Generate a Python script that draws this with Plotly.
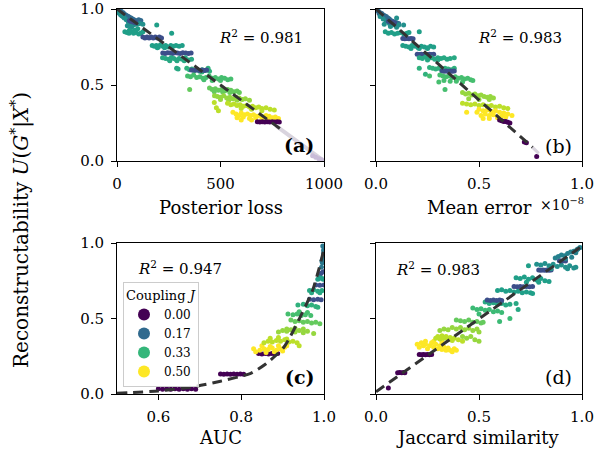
import plotly.graph_objects as go

# ---------------- data ----------------
# each group: (coupling J, x values, U values)
A_GROUPS = [
    (0.17, [4, 10, 15, 20, 26, 30, 36, 42, 48, 55, 60, 68, 75, 82, 90, 98, 105, 115, 12, 24, 40, 52, 66, 85],
     [0.995, 0.99, 0.98, 0.985, 0.97, 0.975, 0.965, 0.96, 0.955, 0.95, 0.945, 0.94, 0.935, 0.93, 0.925, 0.92, 0.93, 0.925, 0.97, 0.955, 0.945, 0.935, 0.92, 0.915]),
    (0.25, [8, 18, 28, 35, 45, 55, 62, 72, 80, 95, 110, 125, 50, 70],
     [0.975, 0.96, 0.95, 0.94, 0.93, 0.915, 0.905, 0.9, 0.895, 0.9, 0.905, 0.9, 0.89, 0.88]),
    (0.12, [60, 66, 72, 78, 84, 90], [0.925, 0.92, 0.92, 0.915, 0.915, 0.91]),
    (0.28, [38, 48, 58, 70, 80, 92, 105, 115, 125, 60, 85, 100, 192, 264],
     [0.85, 0.845, 0.84, 0.85, 0.84, 0.845, 0.835, 0.84, 0.85, 0.86, 0.86, 0.87, 0.895, 0.84]),
    (0.12, [125, 135, 145, 155, 165, 175, 185, 195, 205, 215],
     [0.815, 0.81, 0.815, 0.81, 0.815, 0.81, 0.815, 0.81, 0.815, 0.81]),
    (0.28, [170, 180, 190, 200, 210, 222, 235, 248, 260, 272, 285, 300, 315, 195, 230, 265],
     [0.76, 0.755, 0.76, 0.75, 0.765, 0.755, 0.76, 0.75, 0.76, 0.755, 0.76, 0.755, 0.76, 0.745, 0.745, 0.75]),
    (0.12, [221, 232, 244, 256, 268, 280, 292, 305, 318, 332, 345, 358],
     [0.71, 0.708, 0.712, 0.71, 0.708, 0.712, 0.71, 0.708, 0.712, 0.71, 0.708, 0.71]),
    (0.3, [220, 235, 250, 262, 275, 288, 300, 315, 330, 345, 360, 255, 290, 325, 288, 295],
     [0.68, 0.675, 0.67, 0.68, 0.675, 0.665, 0.675, 0.67, 0.68, 0.665, 0.67, 0.66, 0.66, 0.66, 0.61, 0.605]),
    (0.32, [337, 350, 362, 375, 388, 400, 412, 425, 437, 447, 410, 440],
     [0.61, 0.6, 0.605, 0.595, 0.6, 0.59, 0.6, 0.595, 0.6, 0.59, 0.585, 0.61]),
    (0.12, [360, 372, 385, 398, 410, 422, 433], [0.598, 0.595, 0.598, 0.595, 0.598, 0.595, 0.598]),
    (0.35, [341, 355, 370, 385, 400, 415, 430, 445, 460, 475, 490, 505, 520, 535, 550, 420, 460, 500],
     [0.56, 0.555, 0.565, 0.55, 0.555, 0.545, 0.55, 0.56, 0.545, 0.55, 0.54, 0.55, 0.545, 0.535, 0.54, 0.535, 0.53, 0.53]),
    (0.38, [351, 447, 460, 475, 490, 505, 520, 535, 550, 565, 580, 591, 470, 510, 545],
     [0.47, 0.48, 0.47, 0.475, 0.465, 0.47, 0.46, 0.47, 0.465, 0.455, 0.46, 0.45, 0.455, 0.455, 0.45]),
    (0.42, [471, 485, 500, 515, 530, 545, 560, 575, 590, 605, 620, 640, 500, 540, 580],
     [0.43, 0.425, 0.42, 0.43, 0.415, 0.42, 0.41, 0.42, 0.415, 0.405, 0.41, 0.4, 0.405, 0.4, 0.4]),
    (0.45, [470, 480, 490, 534, 550, 565, 580, 595, 610, 625, 640, 655, 670, 685, 700, 720, 740, 760, 600, 650, 700],
     [0.385, 0.35, 0.33, 0.38, 0.37, 0.375, 0.365, 0.37, 0.36, 0.365, 0.355, 0.36, 0.35, 0.355, 0.345, 0.35, 0.34, 0.335, 0.345, 0.34, 0.33]),
    (0.5, [560, 575, 590, 600, 615, 630, 645, 660, 675, 690, 705, 720, 735, 750, 765, 780, 580, 610, 640, 670, 700, 730, 760, 600, 650],
     [0.32, 0.31, 0.3, 0.315, 0.305, 0.31, 0.3, 0.305, 0.295, 0.3, 0.29, 0.3, 0.295, 0.285, 0.29, 0.28, 0.285, 0.29, 0.28, 0.285, 0.275, 0.28, 0.275, 0.27, 0.27]),
    (0.0, [678, 690, 702, 714, 726, 738, 750, 762, 774, 784],
     [0.258, 0.256, 0.258, 0.256, 0.258, 0.256, 0.258, 0.256, 0.258, 0.256]),
]
A_END_X = [945, 960, 975, 988]
A_END_Y = [0.035, 0.025, 0.015, 0.008]

B_GROUPS = [
    (0.17, [0.005, 0.012, 0.02, 0.028, 0.035, 0.042, 0.05, 0.058, 0.065, 0.072, 0.08, 0.09, 0.1, 0.11, 0.015, 0.03, 0.045, 0.06],
     [0.99, 0.985, 0.975, 0.97, 0.96, 0.955, 0.95, 0.94, 0.935, 0.925, 0.92, 0.915, 0.91, 0.905, 0.97, 0.955, 0.94, 0.925]),
    (0.25, [0.02, 0.035, 0.05, 0.065, 0.08, 0.095, 0.11, 0.04, 0.07, 0.1, 0.134, 0.1],
     [0.95, 0.935, 0.92, 0.905, 0.895, 0.9, 0.895, 0.9, 0.885, 0.88, 0.895, 0.94]),
    (0.12, [0.06, 0.07, 0.08, 0.09], [0.92, 0.915, 0.915, 0.91]),
    (0.28, [0.045, 0.06, 0.075, 0.09, 0.105, 0.12, 0.135, 0.15, 0.16, 0.21],
     [0.85, 0.84, 0.845, 0.835, 0.84, 0.845, 0.835, 0.84, 0.845, 0.85]),
    (0.12, [0.13, 0.14, 0.15, 0.16, 0.17, 0.18], [0.806, 0.804, 0.806, 0.804, 0.806, 0.804]),
    (0.28, [0.13, 0.145, 0.16, 0.175, 0.19, 0.205, 0.22, 0.235, 0.25, 0.265, 0.28, 0.17, 0.21, 0.25],
     [0.76, 0.755, 0.75, 0.76, 0.755, 0.745, 0.755, 0.75, 0.745, 0.755, 0.75, 0.74, 0.74, 0.74]),
    (0.12, [0.2, 0.21, 0.22, 0.23, 0.24, 0.25, 0.26, 0.27, 0.28],
     [0.702, 0.7, 0.702, 0.7, 0.702, 0.7, 0.702, 0.7, 0.702]),
    (0.3, [0.21, 0.225, 0.24, 0.255, 0.27, 0.285, 0.3, 0.315, 0.33, 0.345, 0.36, 0.38, 0.25, 0.3],
     [0.68, 0.675, 0.685, 0.675, 0.68, 0.67, 0.68, 0.675, 0.68, 0.67, 0.675, 0.68, 0.665, 0.665]),
    (0.32, [0.21, 0.26, 0.275, 0.29, 0.305, 0.32, 0.335, 0.35, 0.365, 0.38, 0.24],
     [0.61, 0.615, 0.61, 0.605, 0.61, 0.6, 0.61, 0.605, 0.6, 0.61, 0.57]),
    (0.12, [0.32, 0.33, 0.34, 0.35, 0.36, 0.37, 0.38], [0.592, 0.59, 0.592, 0.59, 0.592, 0.59, 0.592]),
    (0.35, [0.31, 0.325, 0.34, 0.355, 0.37, 0.385, 0.4, 0.415, 0.43, 0.445, 0.46, 0.47, 0.33, 0.36, 0.39, 0.42, 0.26, 0.305, 0.335],
     [0.565, 0.56, 0.555, 0.56, 0.55, 0.555, 0.545, 0.55, 0.54, 0.545, 0.535, 0.53, 0.53, 0.525, 0.525, 0.52, 0.56, 0.52, 0.47]),
    (0.42, [0.42, 0.435, 0.45, 0.465, 0.48, 0.495, 0.51, 0.525, 0.54, 0.555, 0.57, 0.45, 0.5, 0.55],
     [0.45, 0.44, 0.445, 0.435, 0.44, 0.43, 0.435, 0.425, 0.42, 0.425, 0.415, 0.41, 0.405, 0.405]),
    (0.45, [0.42, 0.44, 0.46, 0.48, 0.5, 0.52, 0.54, 0.56, 0.58, 0.6, 0.62, 0.64],
     [0.38, 0.375, 0.37, 0.375, 0.365, 0.37, 0.36, 0.365, 0.355, 0.36, 0.35, 0.345]),
    (0.5, [0.44, 0.49, 0.52, 0.55, 0.5, 0.52, 0.54, 0.56, 0.58, 0.6, 0.62, 0.64, 0.66, 0.51, 0.53, 0.57, 0.61, 0.63, 0.55, 0.59],
     [0.32, 0.32, 0.28, 0.28, 0.34, 0.33, 0.335, 0.325, 0.33, 0.32, 0.315, 0.31, 0.3, 0.3, 0.31, 0.305, 0.295, 0.29, 0.3, 0.285]),
    (0.0, [0.6, 0.61, 0.62, 0.63, 0.64, 0.65, 0.72, 0.73, 0.78],
     [0.27, 0.265, 0.26, 0.26, 0.255, 0.25, 0.125, 0.12, 0.03]),
]

C_GROUPS = [
    (0.0, [0.6, 0.61, 0.62, 0.63, 0.64, 0.65, 0.66, 0.67, 0.68, 0.69],
     [0.034, 0.031, 0.034, 0.031, 0.034, 0.031, 0.034, 0.031, 0.034, 0.031]),
    (0.0, [0.75, 0.758, 0.766, 0.774, 0.782, 0.79, 0.798, 0.806],
     [0.132, 0.13, 0.132, 0.13, 0.132, 0.13, 0.132, 0.13]),
    (0.0, [0.842, 0.85, 0.858, 0.866, 0.874, 0.882, 0.888],
     [0.268, 0.265, 0.268, 0.265, 0.268, 0.265, 0.268]),
    (0.5, [0.83, 0.835, 0.845, 0.855, 0.865, 0.875, 0.885, 0.895, 0.905, 0.86, 0.88, 0.9, 0.87, 0.89, 0.91, 0.85],
     [0.3, 0.28, 0.29, 0.3, 0.295, 0.305, 0.29, 0.3, 0.31, 0.275, 0.28, 0.285, 0.315, 0.32, 0.32, 0.32]),
    (0.45, [0.855, 0.865, 0.875, 0.885, 0.895, 0.905, 0.915, 0.925, 0.935, 0.87, 0.89, 0.91, 0.94],
     [0.34, 0.35, 0.345, 0.355, 0.35, 0.36, 0.345, 0.35, 0.34, 0.37, 0.375, 0.365, 0.32]),
    (0.42, [0.89, 0.9, 0.91, 0.92, 0.93, 0.94, 0.95, 0.96, 0.975, 0.91, 0.93, 0.95],
     [0.41, 0.42, 0.415, 0.425, 0.41, 0.42, 0.405, 0.415, 0.4, 0.43, 0.435, 0.43]),
    (0.38, [0.92, 0.93, 0.94, 0.95, 0.96, 0.97, 0.98, 0.99],
     [0.49, 0.48, 0.485, 0.475, 0.48, 0.47, 0.475, 0.465]),
    (0.35, [0.913, 0.925, 0.935, 0.945, 0.955, 0.968, 0.94, 0.96],
     [0.53, 0.525, 0.53, 0.52, 0.525, 0.52, 0.545, 0.54]),
    (0.32, [0.937, 0.95, 0.96, 0.97, 0.98, 0.985], [0.59, 0.595, 0.585, 0.59, 0.58, 0.575]),
    (0.12, [0.965, 0.975, 0.985, 0.993], [0.627, 0.625, 0.627, 0.625]),
    (0.3, [0.965, 0.975, 0.985, 0.995, 0.97, 0.99], [0.685, 0.69, 0.68, 0.685, 0.67, 0.67]),
    (0.12, [0.98, 0.99, 1.0], [0.722, 0.72, 0.722]),
    (0.28, [0.985, 0.99, 0.995, 0.998, 0.99], [0.76, 0.77, 0.765, 0.76, 0.79]),
    (0.12, [0.993, 0.998], [0.8, 0.81]),
    (0.2, [0.994, 0.996, 0.998, 0.999, 1.0, 0.997, 0.995, 0.999], [0.84, 0.87, 0.9, 0.93, 0.96, 0.98, 0.88, 0.95]),
]

D_GROUPS = [
    (0.0, [0.06, 0.105, 0.115, 0.125, 0.135, 0.14, 0.21, 0.22, 0.23, 0.24, 0.25, 0.26, 0.27],
     [0.04, 0.14, 0.142, 0.14, 0.142, 0.14, 0.262, 0.26, 0.262, 0.26, 0.262, 0.26, 0.262]),
    (0.5, [0.2, 0.21, 0.22, 0.23, 0.24, 0.25, 0.26, 0.27, 0.28, 0.29, 0.3, 0.31, 0.32, 0.33, 0.34, 0.35, 0.36, 0.37, 0.38, 0.39, 0.24, 0.28, 0.32],
     [0.33, 0.31, 0.34, 0.32, 0.33, 0.3, 0.32, 0.34, 0.31, 0.33, 0.3, 0.32, 0.295, 0.31, 0.29, 0.305, 0.29, 0.28, 0.3, 0.29, 0.35, 0.35, 0.345]),
    (0.45, [0.29, 0.3, 0.31, 0.32, 0.33, 0.34, 0.35, 0.36, 0.37, 0.38, 0.4, 0.42],
     [0.37, 0.38, 0.365, 0.385, 0.37, 0.38, 0.36, 0.375, 0.355, 0.37, 0.36, 0.35]),
    (0.42, [0.31, 0.33, 0.35, 0.37, 0.39, 0.41, 0.43, 0.45, 0.47, 0.49, 0.5, 0.42, 0.44, 0.46, 0.48, 0.5],
     [0.42, 0.43, 0.425, 0.44, 0.43, 0.44, 0.425, 0.435, 0.42, 0.43, 0.41, 0.38, 0.37, 0.38, 0.36, 0.35]),
    (0.38, [0.39, 0.41, 0.43, 0.45, 0.47, 0.49, 0.51, 0.52], [0.49, 0.485, 0.48, 0.49, 0.475, 0.48, 0.47, 0.475]),
    (0.34, [0.47, 0.49, 0.51, 0.53, 0.55, 0.57, 0.59, 0.61, 0.6, 0.65, 0.5],
     [0.57, 0.56, 0.565, 0.555, 0.56, 0.545, 0.55, 0.54, 0.48, 0.5, 0.53]),
    (0.3, [0.53, 0.55, 0.57, 0.59, 0.61, 0.63, 0.65, 0.68, 0.69], [0.61, 0.6, 0.605, 0.595, 0.6, 0.59, 0.595, 0.6, 0.56]),
    (0.12, [0.54, 0.555, 0.57, 0.585, 0.6, 0.61], [0.622, 0.62, 0.622, 0.62, 0.622, 0.62]),
    (0.28, [0.59, 0.61, 0.63, 0.65, 0.67, 0.69, 0.71, 0.73, 0.75, 0.76, 0.74],
     [0.685, 0.69, 0.68, 0.685, 0.675, 0.68, 0.67, 0.675, 0.67, 0.665, 0.85]),
    (0.12, [0.67, 0.685, 0.7, 0.715, 0.73, 0.745, 0.76], [0.712, 0.71, 0.712, 0.71, 0.712, 0.71, 0.712]),
    (0.28, [0.68, 0.7, 0.72, 0.74, 0.76, 0.78, 0.8, 0.82, 0.84, 0.73, 0.79],
     [0.77, 0.765, 0.775, 0.76, 0.77, 0.755, 0.765, 0.75, 0.745, 0.74, 0.74]),
    (0.12, [0.79, 0.8, 0.81, 0.82, 0.83, 0.84, 0.85], [0.822, 0.82, 0.822, 0.82, 0.822, 0.82, 0.822]),
    (0.25, [0.78, 0.8, 0.82, 0.84, 0.86, 0.88, 0.9, 0.92, 0.94, 0.96, 0.97, 0.85, 0.93],
     [0.86, 0.855, 0.865, 0.85, 0.86, 0.845, 0.855, 0.84, 0.85, 0.835, 0.84, 0.83, 0.83]),
    (0.12, [0.89, 0.9, 0.91, 0.92], [0.882, 0.88, 0.882, 0.88]),
    (0.22, [0.87, 0.885, 0.9, 0.915, 0.93, 0.945, 0.96, 0.975, 0.99, 0.92, 0.95, 0.97, 0.98],
     [0.9, 0.91, 0.92, 0.915, 0.93, 0.94, 0.945, 0.955, 0.97, 0.895, 0.905, 0.935, 0.96]),
]

# fitted curves
A_FIT_X, A_FIT_Y = [0, 790], [1.0, 0.21]
A_TAIL_X, A_TAIL_Y = [770, 1000], [0.23, 0.0]
B_FIT_X, B_FIT_Y = [0.0, 0.76], [1.0, 0.09]
B_TAIL_X, B_TAIL_Y = [0.76, 0.79], [0.09, 0.05]
C_FIT_X = [0.5, 0.6, 0.685, 0.75, 0.823, 0.86, 0.904, 0.948, 0.973, 0.988, 1.0]
C_FIT_Y = [0.005, 0.02, 0.048, 0.085, 0.137, 0.2, 0.313, 0.54, 0.69, 0.83, 0.96]
D_FIT_X, D_FIT_Y = [0.0, 0.99], [0.015, 0.97]

R2 = ["0.981", "0.983", "0.947", "0.983"]
PANEL_LABELS = ["(a)", "(b)", "(c)", "(d)"]
X_TITLES = ["Posterior loss", "Mean error", "AUC", "Jaccard similarity"]
LEGEND_J = [0.0, 0.17, 0.33, 0.5]
LEGEND_TXT = ["0.00", "0.17", "0.33", "0.50"]

# ---------------- figure ----------------
W, H = 598, 451
FONT = "DejaVu Serif"
fig = go.Figure()

def px(x):
    return x / W

def py(y):
    return 1 - y / H

panels = [
    dict(groups=A_GROUPS, xa="x", ya="y", fit=(A_FIT_X, A_FIT_Y)),
    dict(groups=B_GROUPS, xa="x2", ya="y2", fit=(B_FIT_X, B_FIT_Y)),
    dict(groups=C_GROUPS, xa="x3", ya="y3", fit=(C_FIT_X, C_FIT_Y)),
    dict(groups=D_GROUPS, xa="x4", ya="y4", fit=(D_FIT_X, D_FIT_Y)),
]

for p in panels:
    xs, ys, cs = [], [], []
    for j, gx, gy in p["groups"]:
        assert len(gx) == len(gy)
        xs += gx
        ys += gy
        cs += [j] * len(gx)
    fig.add_trace(go.Scatter(
        x=xs, y=ys, mode="markers", xaxis=p["xa"], yaxis=p["ya"], showlegend=False,
        marker=dict(color=cs, colorscale="Viridis", cmin=0, cmax=0.5, size=5,
                    line=dict(width=0)),
        hoverinfo="skip"))

# light tails
fig.add_trace(go.Scatter(x=A_TAIL_X, y=A_TAIL_Y, mode="lines", xaxis="x", yaxis="y",
                         line=dict(color="#d9d4de", width=4), showlegend=False))
fig.add_trace(go.Scatter(x=A_END_X, y=A_END_Y, mode="markers", xaxis="x", yaxis="y",
                         marker=dict(color="#c9bcd8", size=5), showlegend=False))
fig.add_trace(go.Scatter(x=B_TAIL_X, y=B_TAIL_Y, mode="lines", xaxis="x2", yaxis="y2",
                         line=dict(color="#d9d4de", width=3), showlegend=False))

for p in panels:
    fx, fy = p["fit"]
    fig.add_trace(go.Scatter(
        x=fx, y=fy, mode="lines", xaxis=p["xa"], yaxis=p["ya"], showlegend=False,
        line=dict(color="#333333", width=3, dash="10px,6px", shape="spline", smoothing=0.6),
        hoverinfo="skip"))

# legend entries
for j, t in zip(LEGEND_J, LEGEND_TXT):
    fig.add_trace(go.Scatter(
        x=[None], y=[None], mode="markers", name=t, xaxis="x3", yaxis="y3",
        marker=dict(color=[j], colorscale="Viridis", cmin=0, cmax=0.5, size=12)))

XD_L = [px(117), px(324)]
XD_R = [px(376), px(582)]
YD_T = [py(161), py(9)]
YD_B = [py(394), py(243)]

def xax(domain, rng, tickvals, ticktext, anchor):
    return dict(domain=domain, range=rng, tickvals=tickvals, ticktext=ticktext, anchor=anchor,
                showgrid=False, zeroline=False, showline=True, linecolor="black", linewidth=1,
                mirror=True, ticks="outside", ticklen=5, tickcolor="black", tickwidth=1,
                ticklabelstandoff=4, ticklabeloverflow="allow",
                tickfont=dict(family=FONT, size=15, color="black"), automargin=False)

def yax(domain, anchor, labels):
    return dict(domain=domain, range=[0, 1], tickvals=[0, 0.5, 1], ticktext=["0.0", "0.5", "1.0"],
                anchor=anchor, showticklabels=labels,
                showgrid=False, zeroline=False, showline=True, linecolor="black", linewidth=1,
                mirror=True, ticks="outside", ticklen=5, tickcolor="black", tickwidth=1,
                ticklabelstandoff=4, ticklabeloverflow="allow",
                tickfont=dict(family=FONT, size=15, color="black"), automargin=False)

fig.update_layout(
    width=W, height=H, margin=dict(l=0, r=0, t=0, b=0),
    paper_bgcolor="white", plot_bgcolor="white",
    font=dict(family=FONT, color="black"),
    xaxis=xax(XD_L, [0, 1000], [0, 500, 1000], ["0", "500", "1000"], "y"),
    yaxis=yax(YD_T, "x", True),
    xaxis2=xax(XD_R, [0, 1], [0, 0.5, 1], ["0.0", "0.5", "1.0"], "y2"),
    yaxis2=yax(YD_T, "x2", False),
    xaxis3=xax(XD_L, [0.5, 1], [0.6, 0.8, 1.0], ["0.6", "0.8", "1.0"], "y3"),
    yaxis3=yax(YD_B, "x3", True),
    xaxis4=xax(XD_R, [0, 1], [0, 0.5, 1], ["0.0", "0.5", "1.0"], "y4"),
    yaxis4=yax(YD_B, "x4", False),
    legend=dict(x=px(123), y=py(282), xanchor="left", yanchor="top",
                bgcolor="rgba(255,255,255,0.8)", bordercolor="#cccccc", borderwidth=1,
                font=dict(family=FONT, size=12, color="black"),
                title=dict(text="Coupling <i>J</i>", font=dict(family=FONT, size=13)),
                itemsizing="trace", tracegroupgap=0),
)

def note(xc, yc, text, size, **kw):
    d = dict(x=px(xc), y=py(yc), xref="paper", yref="paper", showarrow=False,
             xanchor="center", yanchor="middle", text=text, font=dict(family=FONT, size=size))
    d.update(kw)
    return d

ann = []
for (xc, yc), r in zip([(261, 37), (520, 37), (180, 268), (438, 269)], R2):
    ann.append(note(xc, yc, f"<i>R</i><sup>2</sup> = {r}", 15))
for (xc, yc), lab, bold in zip([(299, 145), (558, 146), (300, 377), (558, 377)], PANEL_LABELS,
                               [True, False, True, False]):
    ann.append(note(xc, yc, f"<b>{lab}</b>" if bold else lab, 19))
for (xc, yc), t in zip([(221, 207), (479, 207), (220, 437), (478, 437)], X_TITLES):
    ann.append(note(xc, yc, t, 18))
ann.append(note(586, 204, "×10<sup>−8</sup>", 14, xanchor="right"))
ann.append(note(20, 230, "Reconstructability <i>U</i>(<i>G</i><sup>*</sup>|<i>X</i><sup>*</sup>)",
                20, textangle=-90))
fig.update_layout(annotations=ann)

fig.write_html("out.html", config={"displayModeBar": False},
               post_script="document.body.style.margin='0px';")
